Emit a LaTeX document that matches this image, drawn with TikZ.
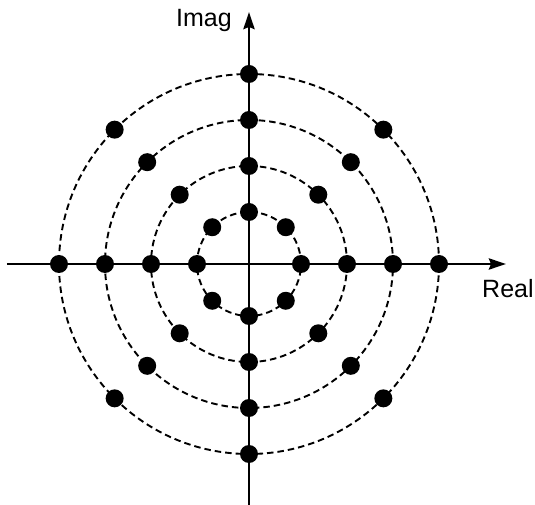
\documentclass[tikz,border=0pt]{standalone}
\usepackage{fontspec}
\setmainfont{Liberation Sans}
\usetikzlibrary{arrows.meta}

\begin{document}
\begin{tikzpicture}[x=1pt, y=1pt, >={Stealth[length=17pt, width=11pt, inset=2pt]}]
    \useasboundingbox (-249,-241) rectangle (286,264);
    \foreach \r in {52,98,144,190}
        \draw[dash pattern=on 6.5pt off 4pt, line width=1.9pt] (0,0) circle (\r);
    \coordinate (west) at (-242,0);
    \coordinate (east) at (257,0);
    \coordinate (south) at (0,-241);
    \coordinate (north) at (0,252);
    \draw[->, line width=2.9pt] (west) -- (east);
    \draw[->, line width=2.9pt] (south) -- (north);
    \foreach \r in {52,98,144,190}
        \foreach \a in {0,45,...,315}
            \fill (\a:\r) circle (9);
    \node[font=\fontsize{25}{29}\selectfont, anchor=base east, inner sep=0pt] (imag) at (-17,237) {Imag};
    \node[font=\fontsize{25}{29}\selectfont, anchor=base west, inner sep=0pt] (real) at (233,-34) {Real};
\end{tikzpicture}
\end{document}
